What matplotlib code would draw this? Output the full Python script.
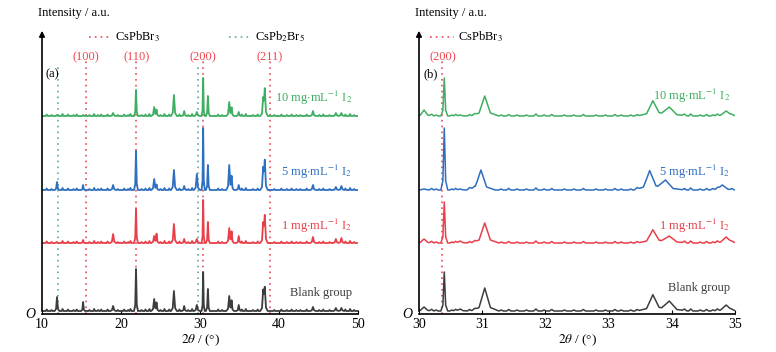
import numpy as np
import matplotlib
matplotlib.use("Agg")
import matplotlib.pyplot as plt

plt.rcParams['font.family'] = ['Liberation Serif', 'DejaVu Serif']
plt.rcParams['mathtext.fontset'] = 'stix'

# ---- panel (a): 2theta 10-50, peak positions shared by all samples ----
peaks_a = [11.9, 15.2, 19.0, 21.9, 24.2, 24.5, 26.7, 28.0, 29.6, 30.4,
           31.0, 33.7, 34.0, 34.9, 38.0, 38.2, 44.3, 47.2, 47.9]
hw_a = [0.12, 0.1, 0.15, 0.1, 0.15, 0.12, 0.15, 0.12, 0.15, 0.08,
        0.1, 0.15, 0.12, 0.12, 0.15, 0.15, 0.15, 0.15, 0.15]
blank_a = [14, 9, 5, 42, 12, 8, 20, 5, 6, 39, 22, 15, 10, 6, 19, 22, 4, 3, 3]
i1_a = [1, 3, 9, 34, 7, 9, 19, 4, 4, 43, 21, 15, 11, 7, 18, 26, 6, 4, 5]
i5_a = [8, 5, 5, 39, 11, 5, 20, 4, 16, 62, 25, 25, 13, 5, 20, 28, 5, 3, 4]
i10_a = [1, 1, 3, 26, 9, 6, 21, 5, 4, 38, 20, 14, 8, 4, 16, 26, 5, 3, 3]
bumps_a = [10.6, 11.2, 12.6, 13.3, 14.0, 14.4, 16.0, 16.6, 17.1, 17.5, 18.3,
           19.6, 20.4, 20.9, 21.2, 22.6, 23.1, 23.6, 25.0, 25.5, 26.1, 27.4,
           28.5, 29.0, 32.3, 32.8, 35.3, 35.8, 36.7, 37.3, 39.4, 40.3, 41.0,
           41.6, 42.2, 42.7, 43.5, 45.1, 45.6, 46.4, 48.4, 49.0, 49.5]
bump_h_a = [1.5, 1, 2, 1.5, 1, 1.5, 1, 2, 1, 1.5, 1.5, 1, 1.5, 1, 2, 1, 1.5,
            2, 1, 2, 1.5, 1.5, 1, 2, 1.5, 1, 1.5, 2, 1, 1.5, 1, 1.5, 1, 1.5,
            1, 1, 1.5, 1, 1.5, 1, 1.5, 2, 1]

# ---- panel (b): 2theta 30-35 ----
peaks_b = [30.08, 30.40, 30.65, 31.04, 33.70, 33.96, 34.86]
hw_b = [0.06, 0.022, 0.05, 0.09, 0.1, 0.12, 0.09]
blank_b = [4, 39, 2, 23, 16, 10, 6]
i1_b = [4, 41, 2, 20, 13, 7, 6]
i5_b = [1, 62, 1, 20, 19, 10, 5]
i10_b = [6, 38, 1, 20, 15, 9, 5]
shift_5_b = [0, 0, 0, -0.06, -0.05, -0.06, -0.06]
bumps_b = [30.2, 30.27, 30.52, 30.58, 30.8, 30.88, 31.3, 31.42, 31.55,
           31.7, 31.85, 31.98, 32.1, 32.3, 32.45, 32.6, 32.8, 32.95, 33.1,
           33.2, 33.35, 33.45, 34.2, 34.3, 34.45, 34.55, 34.65, 34.72, 34.95]
bump_h_b = [1.5, 1, 1, 1.5, 1.5, 1, 1, 1.5, 1, 1, 2, 1, 1.5, 1, 1, 1.5,
            1, 1, 1.5, 1, 1, 1.5, 1.5, 2, 1, 1.5, 1, 1.5, 1]

offsets = [3, 71, 124, 198]
labels = ['Blank group', r'1 mg$\cdot$mL$^{-1}$ I$_2$',
          r'5 mg$\cdot$mL$^{-1}$ I$_2$', r'10 mg$\cdot$mL$^{-1}$ I$_2$']
colors = ['#3d3d3d', '#e8404a', '#2f6fbf', '#3fae62']
red_dot = '#f0474f'
teal_dot = '#5aaea0'


def pattern(pos, hw, h, bpos, bh, x0, x1, bw):
    # each peak = narrow tip + wider foot; summed exactly at all breakpoints
    tris = []
    for p, w, v in zip(pos, hw, h):
        tris.append((p, w, 0.75 * v))
        tris.append((p, 2.5 * w, 0.25 * v))
    tris += [(p, bw, v) for p, v in zip(bpos, bh)]
    xs = [x0, x1]
    for p, w, v in tris:
        xs += [p - w, p, p + w]
    xs = np.array(sorted(set(xs)))
    ys = np.zeros_like(xs)
    for p, w, v in tris:
        ys += np.interp(xs, [p - w, p, p + w], [0, v, 0])
    return xs, ys


fig = plt.figure(figsize=(7.76, 3.52), dpi=100)
ax1 = fig.add_axes([42 / 776, 38 / 352, 316 / 776, 286 / 352])
ax2 = fig.add_axes([419 / 776, 38 / 352, 316 / 776, 286 / 352])

for ax in (ax1, ax2):
    ax.set_ylim(0, 286)
    ax.set_yticks([])
    for s in ('top', 'right', 'left'):
        ax.spines[s].set_visible(False)
    ax.spines['bottom'].set_linewidth(1.2)
    ax.tick_params(axis='x', direction='in', length=3, labelsize=10, pad=3)
    ax.annotate('', xy=(0, 1.0), xytext=(0, 0), xycoords='axes fraction',
                arrowprops=dict(arrowstyle='-|>', lw=1.2, color='k',
                                mutation_scale=8))
    ax.text(-0.012, 1.03, 'Intensity / a.u.', transform=ax.transAxes,
            fontsize=9, ha='left', va='bottom')
    ax.text(-0.02, 0, 'O', transform=ax.transAxes, fontsize=10,
            style='italic', ha='right', va='center')
    ax.set_xlabel(r'$2\theta$ / (°)', fontsize=9.5, labelpad=1)

# panel (a)
ax1.set_xlim(10, 50)
ax1.set_xticks([10, 20, 30, 40, 50])
for xv in [15.55, 21.95, 30.4, 38.85]:
    ax1.axvline(xv, ymax=0.885, color=red_dot, ls=(0, (1, 2.5)), lw=1.2, zorder=1)
for xv in [12.05, 29.8]:
    ax1.axvline(xv, ymax=0.875, color=teal_dot, ls=(0, (1, 2.5)), lw=1.2, zorder=1)
sets_a = [blank_a, i1_a, i5_a, i10_a]
label_y_a = [21, 88, 142, 216]
for h, off, col, lab, ly in zip(sets_a, offsets, colors, labels, label_y_a):
    x, y = pattern(peaks_a, hw_a, h, bumps_a, bump_h_a, 10, 50, 0.12)
    ax1.plot(x, y + off, color=col, lw=1.3, zorder=2)
    ax1.text(49.3, ly, lab, color=col, fontsize=9, ha='right', va='center')

for xv, t in zip([15.55, 21.95, 30.4, 38.85], ['(100)', '(110)', '(200)', '(211)']):
    ax1.text(xv, 257, t, color=red_dot, fontsize=9, ha='center', va='center')
ax1.plot([16.0, 18.8], [277, 277], color=red_dot, ls=(0, (1, 2.5)), lw=1.2,
         clip_on=False)
ax1.text(19.3, 277, r'CsPbBr$_3$', fontsize=9, va='center')
ax1.plot([33.7, 36.5], [277, 277], color=teal_dot, ls=(0, (1, 2.5)), lw=1.2,
         clip_on=False)
ax1.text(37.0, 277, r'CsPb$_2$Br$_5$', fontsize=9, va='center')
ax1.text(10.4, 240, '(a)', fontsize=9, va='center')

# panel (b)
ax2.set_xlim(30, 35)
ax2.set_xticks([30, 31, 32, 33, 34, 35])
ax2.axvline(30.37, ymax=0.885, color=red_dot, ls=(0, (1, 2.5)), lw=1.2, zorder=1)
sets_b = [blank_b, i1_b, i5_b, i10_b]
label_y_b = [26, 88, 142, 218]
for k, (h, off, col, lab, ly) in enumerate(zip(sets_b, offsets, colors, labels, label_y_b)):
    pos = peaks_b
    if k == 2:
        pos = [p + s for p, s in zip(peaks_b, shift_5_b)]
    x, y = pattern(pos, hw_b, h, bumps_b, bump_h_b, 30, 35, 0.035)
    ax2.plot(x, y + off, color=col, lw=1.1, zorder=2)
    ax2.text(34.92, ly, lab, color=col, fontsize=9, ha='right', va='center')

ax2.text(30.37, 257, '(200)', color=red_dot, fontsize=9, ha='center', va='center')
ax2.plot([30.17, 30.55], [277, 277], color=red_dot, ls=(0, (1, 2.5)), lw=1.2,
         clip_on=False)
ax2.text(30.62, 277, r'CsPbBr$_3$', fontsize=9, va='center')
ax2.text(30.07, 240, '(b)', fontsize=9, va='center')

fig.savefig('out.png', dpi=100)
